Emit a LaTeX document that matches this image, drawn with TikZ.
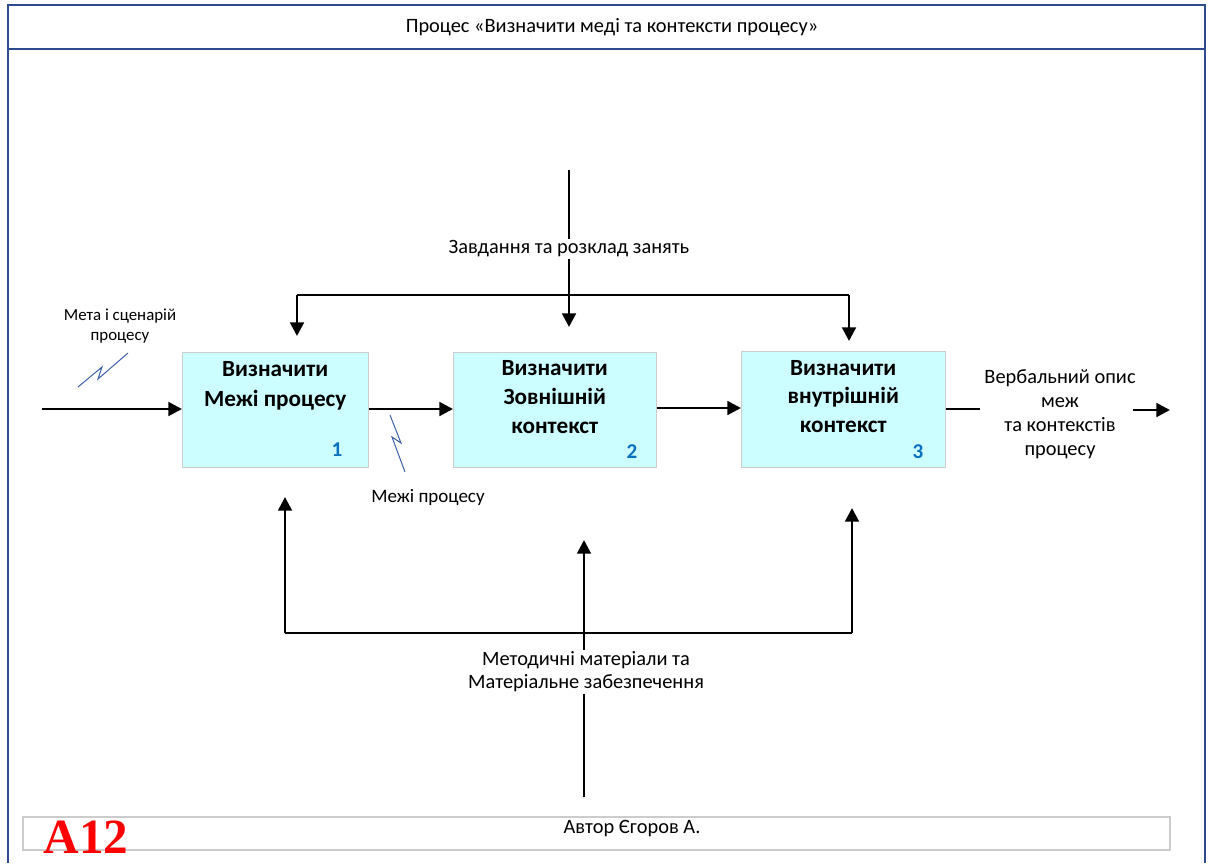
\documentclass[tikz,border=0pt]{standalone}
\usepackage{fontspec}
\setmainfont{Carlito}
\newfontfamily\serifbold{Liberation Serif}
\usepackage{xcolor}
\usetikzlibrary{arrows.meta, positioning, calc}

\definecolor{frameblue}{HTML}{2F4B8F}
\definecolor{boxcyan}{HTML}{CCFDFF}
\definecolor{numblue}{HTML}{0A70C0}
\definecolor{squigblue}{HTML}{3A5FA8}

\begin{document}
\begin{tikzpicture}[
    x=0.025cm, y=-0.025cm,
    func/.style={draw=black!20, fill=boxcyan, rectangle, anchor=north west, inner sep=0pt},
    ftext/.style={align=center, font=\fontsize{16.5}{20.5}\selectfont\bfseries},
    fnum/.style={font=\fontsize{15}{17}\selectfont\bfseries, text=numblue},
    lbl/.style={align=center, font=\fontsize{14.5}{16.5}\selectfont, fill=white, inner sep=1pt},
    small/.style={align=center, font=\fontsize{12}{14.5}\selectfont, inner sep=1pt},
    flow/.style={-{Triangle[length=0.34cm, width=0.34cm]}, line width=2pt},
    line/.style={line width=2pt},
    squig/.style={draw=squigblue, line width=0.7pt}
]
\useasboundingbox (0,0) rectangle (1208,863);

% frame and title
\draw[frameblue, line width=1.2pt] (8,863) -- (8,5) -- (1205,5) -- (1205,863);
\draw[frameblue, line width=1.2pt] (8,49) -- (1205,49);
\node[font=\fontsize{14.5}{17}\selectfont] (title) at (612,27) {Процес «Визначити меді та контексти процесу»};

% footer
\draw[black!20, line width=0.8pt] (23,817) rectangle (1170,850);
\node[font=\fontsize{14.5}{17}\selectfont] (author) at (632,829) {Автор Єгоров А.};
\node[font=\fontsize{35}{35}\selectfont\serifbold\bfseries, text=red, inner sep=0pt, anchor=base] (code) at (86,853) {A12};

% activity boxes
\node[func, minimum width=186*0.025cm, minimum height=115*0.025cm] (f1) at (182,352) {};
\node[func, minimum width=203*0.025cm, minimum height=115*0.025cm] (f2) at (453,352) {};
\node[func, minimum width=204*0.025cm, minimum height=116*0.025cm] (f3) at (741,351) {};

\node[ftext, font=\fontsize{16.5}{21.5}\selectfont\bfseries] (t1) at ([yshift=0.6cm]f1.center) {Визначити\\ Межі процесу};
\node[ftext] (t2) at ([yshift=0.32cm]f2.center) {Визначити\\ Зовнішній\\ контекст};
\node[ftext] (t3) at ([yshift=0.32cm]f3.center) {Визначити\\ внутрішній\\ контекст};
\node[fnum] (n1) at (337,450) {1};
\node[fnum] (n2) at (632,452) {2};
\node[fnum] (n3) at (918,452) {3};

% input
\coordinate (in) at (42,409);
\draw[flow] (in) -- (in -| f1.west);
\node[small] (inlbl) at (120,326) {Мета і сценарій\\ процесу};
\draw[squig] (78,387) -- (102,367) -- (98,379) -- (128,353);

% flows between boxes
\draw[flow] (f1.east |- 0,409) -- (f2.west |- 0,409);
\draw[flow] (f2.east |- 0,408) -- (f3.west |- 0,408);
\draw[squig] (390,415) -- (401,443) -- (392,437) -- (405,472);
\node[small, font=\fontsize{13.5}{16}\selectfont] (bounds) at (428,498) {Межі процесу};

% output
\coordinate (outA) at (980,409);
\coordinate (outB) at (1133,410);
\coordinate (outC) at (1170,410);
\draw[line] (f3.east |- outA) -- (outA);
\draw[flow] (outB) -- (outC);
\node[small, font=\fontsize{14.5}{17}\selectfont] (outlbl) at (1060,414) {Вербальний опис\\ меж\\ та контекстів\\ процесу};

% controls
\coordinate (ctop) at (569,170);
\coordinate (cbar) at (569,295);
\coordinate (cL) at (297,295);
\coordinate (cR) at (849,295);
\draw[line] (cL) -- (cR);
\draw[flow] (ctop) -- (569,327);
\draw[flow] (cL) -- (297,336);
\draw[flow] (cR) -- (849,341);
\node[lbl] (ctrl) at (569,249) {Завдання та розклад занять};

% mechanisms
\coordinate (mbot) at (584,797);
\coordinate (mL) at (285,633);
\coordinate (mR) at (852,633);
\draw[line] (mL) -- (mR);
\draw[flow] (mL) -- (285,497);
\draw[flow] (mR) -- (852,508);
\draw[flow] (mbot) -- (584,540);
\node[lbl] (mech) at (586,672) {Методичні матеріали та\\ Матеріальне забезпечення};

\end{tikzpicture}
\end{document}
